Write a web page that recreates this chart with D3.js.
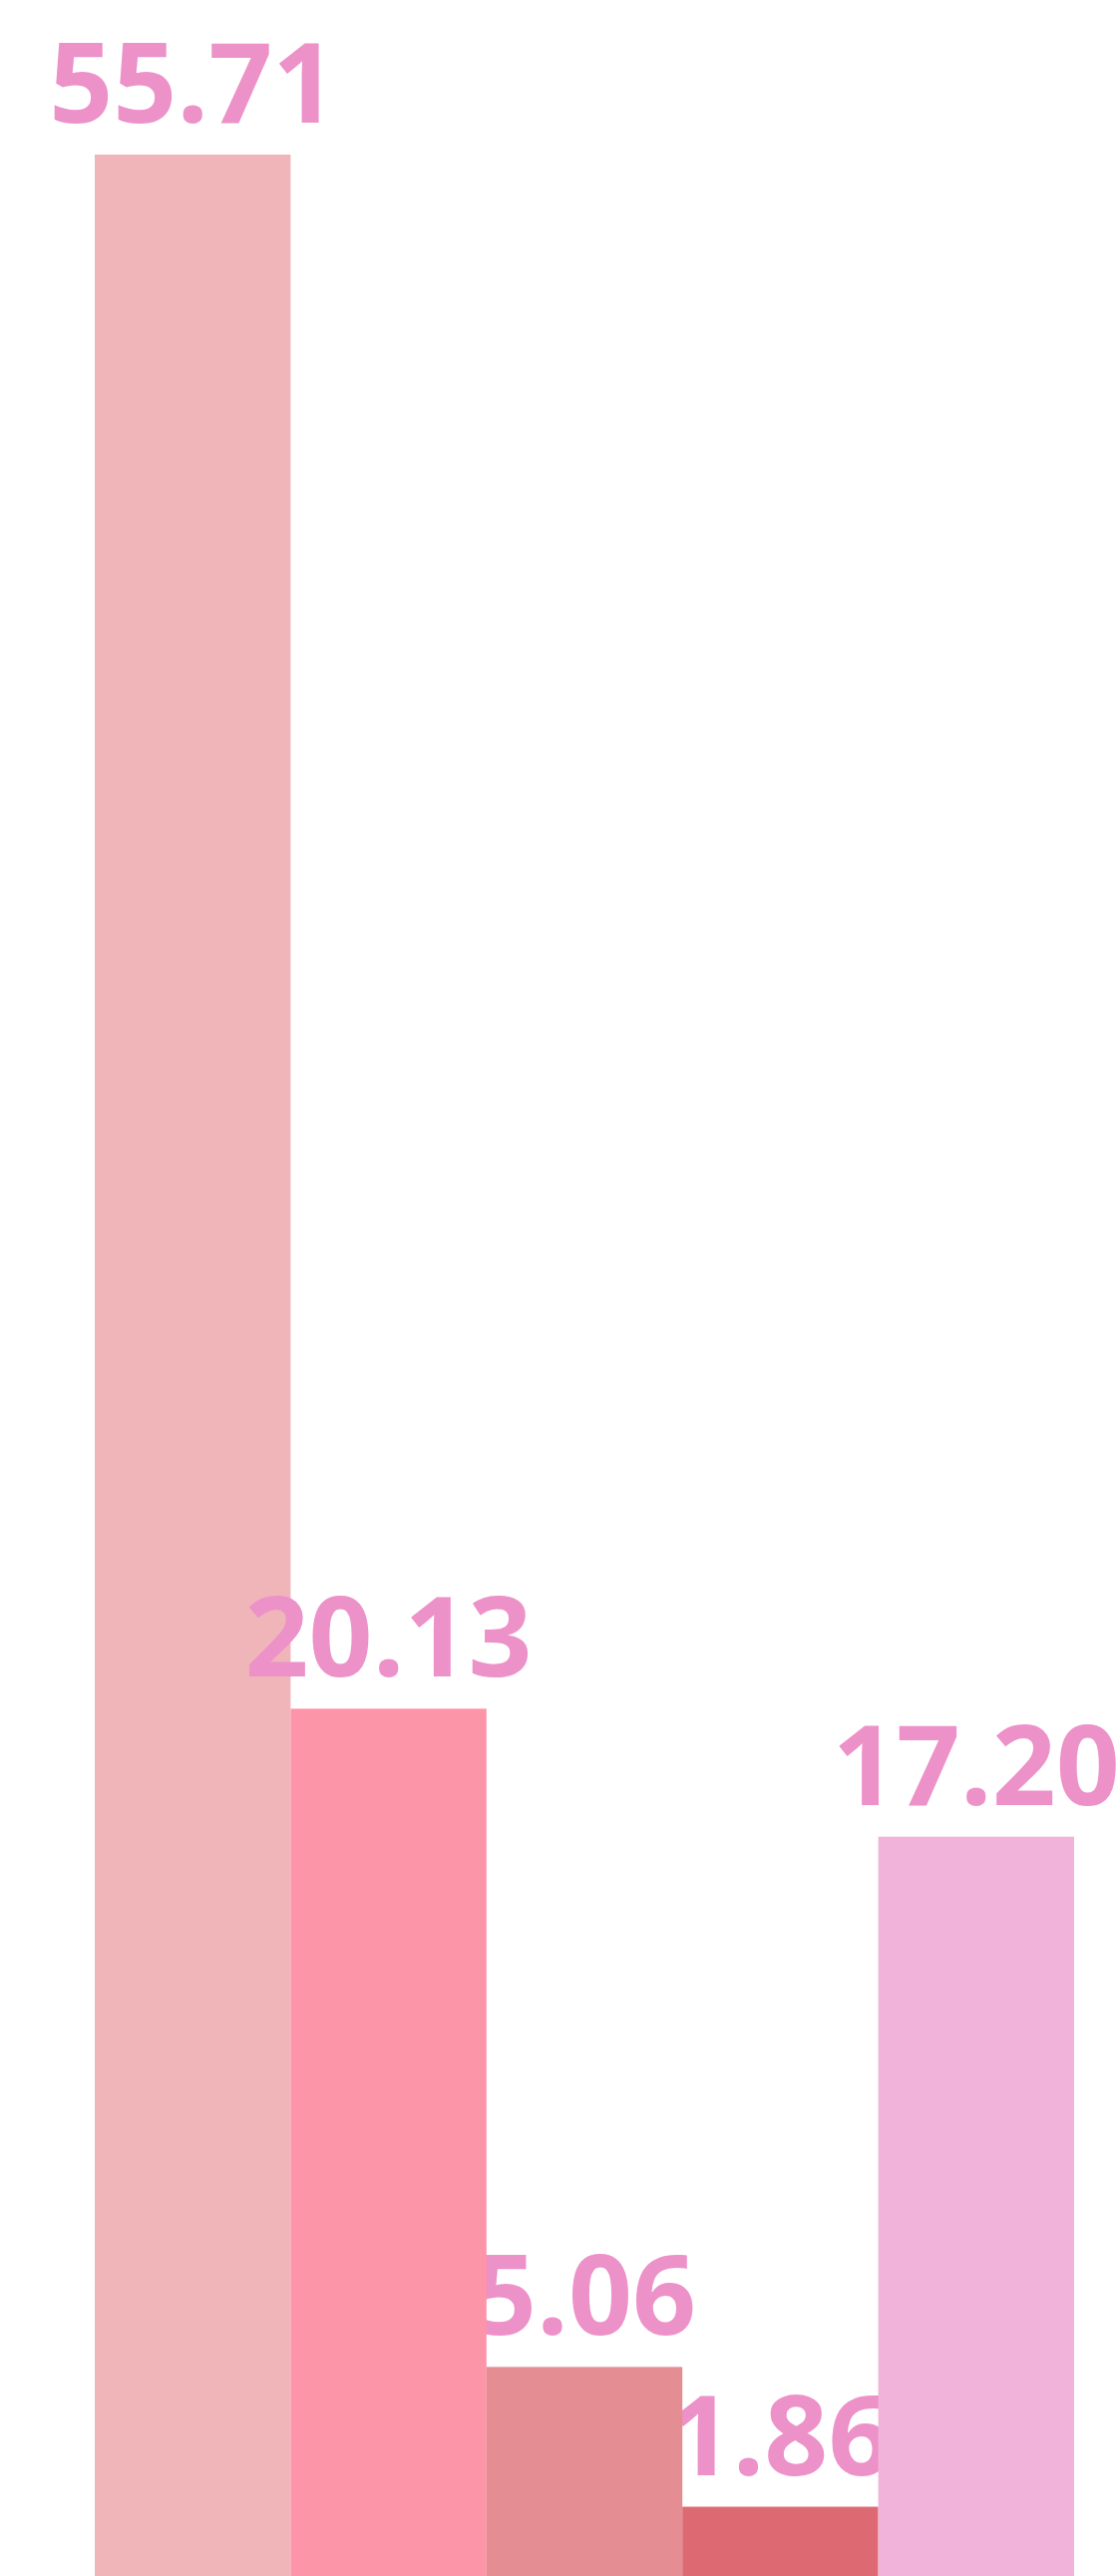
<!DOCTYPE html>
<html>
<head>
<meta charset="utf-8">
<script src="https://cdn.jsdelivr.net/npm/d3@7"></script>
<style>
  html, body { margin: 0; padding: 0; background: #ffffff; }
  svg { display: block; }
</style>
</head>
<body>
<div id="chart"></div>
<script>
const categories = ["A", "B", "C", "D", "E"]
const values = [55.71, 20.13, 5.06, 1.86, 17.20]
const barColors = ["#efb5b9", "#fd95a8", "#e48d93", "#dd6a72", "#f1b3da"]

const WIDTH = 1121
const HEIGHT = 2583
const MARGIN = { TOP: 155, LEFT: 95, RIGHT: 44, BASE: 2595 }

const svg = d3.select("#chart")
  .append("svg")
    .attr("width", WIDTH)
    .attr("height", HEIGHT)

const x = d3.scaleBand()
  .domain(categories)
  .range([MARGIN.LEFT, WIDTH - MARGIN.RIGHT])
  .padding(0)

const y = d3.scaleLinear()
  .domain([0, d3.max(values)])
  .range([MARGIN.BASE, MARGIN.TOP])

const data = categories.map((c, i) => ({ cat: c, value: values[i], color: barColors[i], i }))

function drawBars(g, rows) {
  g.selectAll("rect")
    .data(rows)
    .enter().append("rect")
      .attr("x", d => x(d.cat))
      .attr("y", d => y(d.value))
      .attr("width", x.bandwidth())
      .attr("height", d => y(0) - y(d.value))
      .attr("fill", d => d.color)
}

// first bar sits under the labels, the rest are drawn over them
drawBars(svg.append("g"), data.slice(0, 1))

svg.append("g")
  .selectAll("text")
  .data(data)
  .enter().append("text")
    .attr("x", d => x(d.cat) + x.bandwidth() / 2)
    .attr("y", d => y(d.value) - 32)
    .attr("text-anchor", "middle")
    .attr("font-family", "'Open Sans', 'Noto Sans', sans-serif")
    .attr("font-weight", 700)
    .attr("font-size", 112)
    .attr("fill", "#ed91c9")
    .text(d => d.value.toFixed(2))

drawBars(svg.append("g"), data.slice(1))
</script>
</body>
</html>
